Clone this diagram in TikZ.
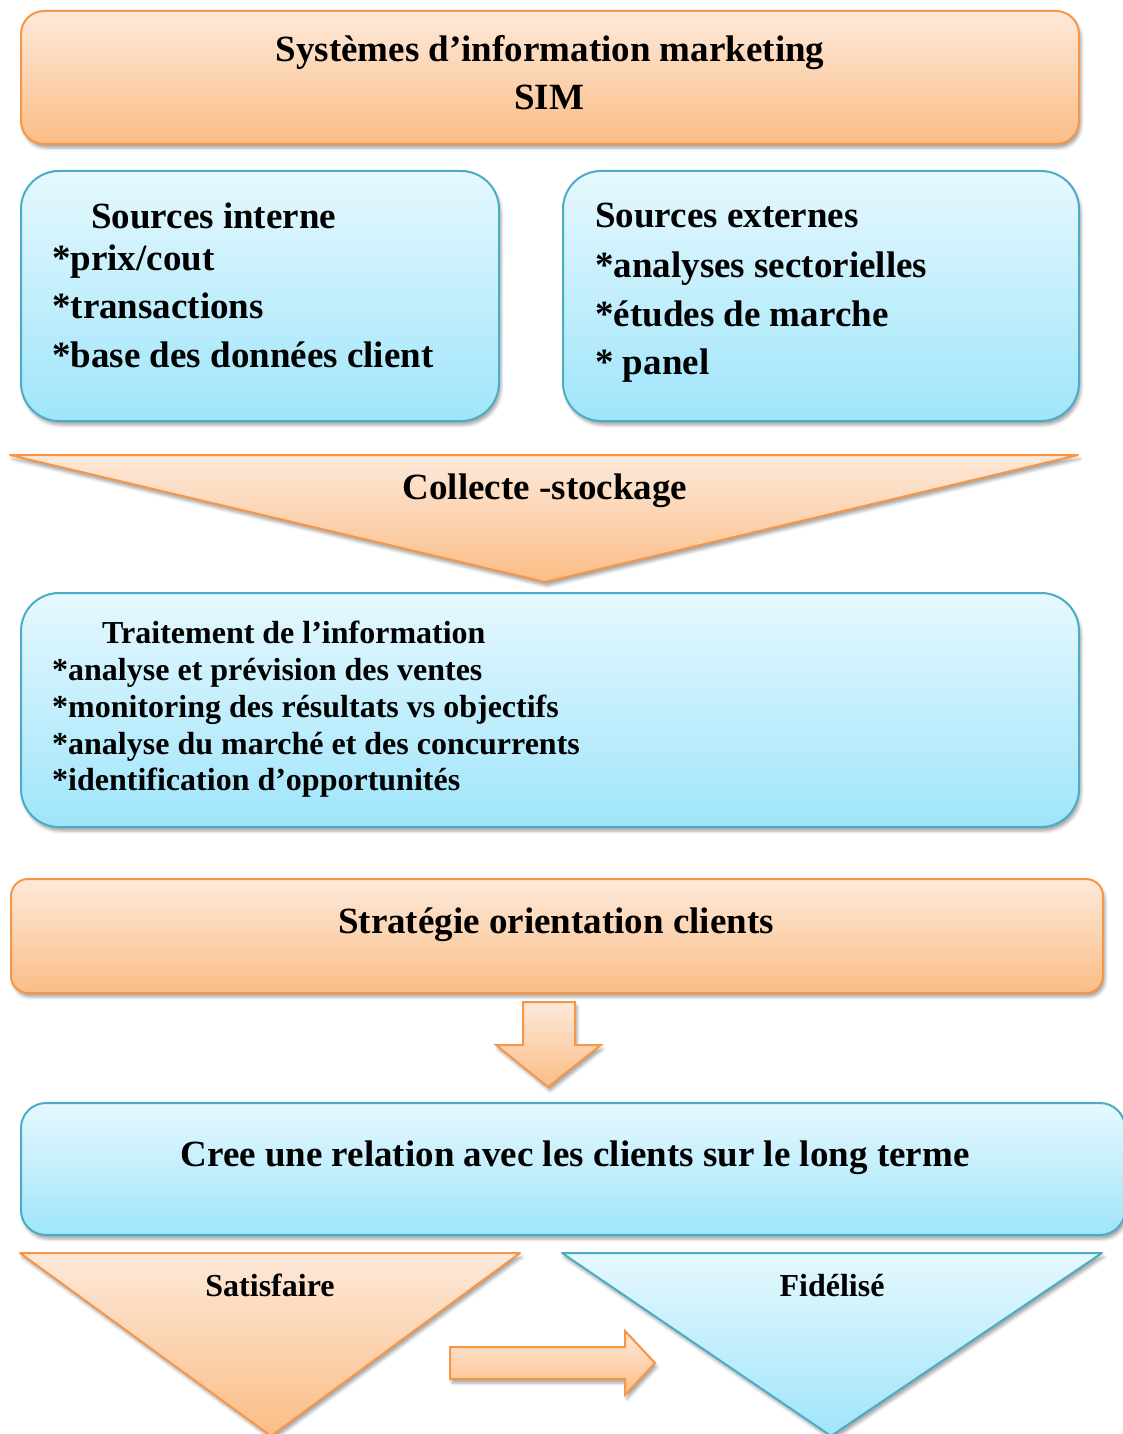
\documentclass[tikz,border=0pt]{standalone}
\usepackage{fontspec}
\setmainfont{Liberation Serif}
\usetikzlibrary{shadows,shadows.blur}

\definecolor{orTop}{HTML}{FDE9DA}
\definecolor{orBot}{HTML}{FBBD86}
\definecolor{orLine}{HTML}{F79646}
\definecolor{blTop}{HTML}{E6F8FE}
\definecolor{blBot}{HTML}{9FE5FA}
\definecolor{blLine}{HTML}{4BACC6}

\tikzset{
  softshadow/.style={blur shadow={shadow xshift=2pt, shadow yshift=-4pt,
      shadow blur radius=3pt, shadow opacity=35}},
  orangeshape/.style={draw=orLine, line width=2pt, top color=orTop,
      bottom color=orBot, softshadow},
  blueshape/.style={draw=blLine, line width=2pt, top color=blTop,
      bottom color=blBot, softshadow},
  panel/.style={rectangle, anchor=north west, inner sep=0pt},
  bigtext/.style={font=\fontsize{37}{44}\selectfont\bfseries, inner sep=0pt},
  midtext/.style={font=\fontsize{32}{38}\selectfont\bfseries, inner sep=0pt},
}

\begin{document}
\begin{tikzpicture}[x=1pt, y=-1pt]
  \useasboundingbox (0,0) rectangle (1122,1434);

  % --- title panel
  \node[panel, orangeshape, rounded corners=23pt, minimum width=1058pt,
        minimum height=133pt] (sim) at (20,10) {};
  \node[bigtext, anchor=base] (simA) at (550,62) {Systèmes d’information marketing};
  \node[bigtext, anchor=base] (simB) at (549,110) {SIM};

  % --- internal and external sources
  \node[panel, blueshape, rounded corners=38pt, minimum width=478pt,
        minimum height=250pt] (intern) at (20,170) {};
  \node[bigtext, anchor=base west] (inA) at (91,228) {Sources interne};
  \node[bigtext, anchor=base west] (inB) at (52,270) {*prix/cout};
  \node[bigtext, anchor=base west] (inC) at (52,318) {*transactions};
  \node[bigtext, anchor=base west] (inD) at (52,367) {*base des données client};

  \node[panel, blueshape, rounded corners=38pt, minimum width=516pt,
        minimum height=250pt] (extern) at (562,170) {};
  \node[bigtext, anchor=base west] (exA) at (595,227) {Sources externes};
  \node[bigtext, anchor=base west] (exB) at (595,277) {*analyses sectorielles};
  \node[bigtext, anchor=base west] (exC) at (595,326) {*études de marche};
  \node[bigtext, anchor=base west] (exD) at (595,374) {* panel};

  % --- collection funnel
  \coordinate (colL) at (10,455);
  \coordinate (colR) at (1078,455);
  \coordinate (colT) at (545,582);
  \path[orangeshape, line join=round] (colL) -- (colR) -- (colT) -- cycle;
  \node[bigtext, anchor=base] (col) at (545,499) {Collecte -stockage};

  % --- processing panel
  \node[panel, blueshape, rounded corners=38pt, minimum width=1058pt,
        minimum height=234pt] (trait) at (20,592) {};
  \node[midtext, anchor=base west] (trA) at (102,643) {Traitement de l’information};
  \node[midtext, anchor=base west] (trB) at (52,680) {*analyse et prévision des ventes};
  \node[midtext, anchor=base west] (trC) at (52,717) {*monitoring des résultats vs objectifs};
  \node[midtext, anchor=base west] (trD) at (52,754) {*analyse du marché et des concurrents};
  \node[midtext, anchor=base west] (trE) at (52,790) {*identification d’opportunités};

  % --- strategy panel
  \node[panel, orangeshape, rounded corners=17pt, minimum width=1092pt,
        minimum height=114pt] (strat) at (10,878) {};
  \node[bigtext, anchor=base] (stratT) at (556,933) {Stratégie orientation clients};

  % --- down arrow
  \path[orangeshape, line join=miter]
    (523,1002) -- (575,1002) -- (575,1045) -- (601,1045) -- (548,1087)
    -- (496,1045) -- (523,1045) -- cycle;

  % --- relationship panel
  \node[panel, blueshape, rounded corners=25pt, minimum width=1104pt,
        minimum height=132pt] (rel) at (20,1102) {};
  \node[bigtext, anchor=base] (relT) at (575,1166)
    {Cree une relation avec les clients sur le long terme};

  % --- satisfy / loyalty funnels
  \coordinate (saL) at (20,1253);
  \coordinate (saR) at (520,1253);
  \coordinate (saT) at (271,1436);
  \path[orangeshape, line join=round] (saL) -- (saR) -- (saT) -- cycle;
  \node[midtext, anchor=base] (sat) at (270,1296) {Satisfaire};

  \coordinate (fiL) at (562,1253);
  \coordinate (fiR) at (1102,1253);
  \coordinate (fiT) at (831,1436);
  \path[blueshape, line join=round] (fiL) -- (fiR) -- (fiT) -- cycle;
  \node[midtext, anchor=base] (fid) at (832,1296) {Fidélisé};

  % --- right arrow between the funnels
  \path[orangeshape, line join=miter]
    (450,1347) -- (625,1347) -- (625,1331) -- (655,1363) -- (625,1395)
    -- (625,1379) -- (450,1379) -- cycle;
\end{tikzpicture}
\end{document}
